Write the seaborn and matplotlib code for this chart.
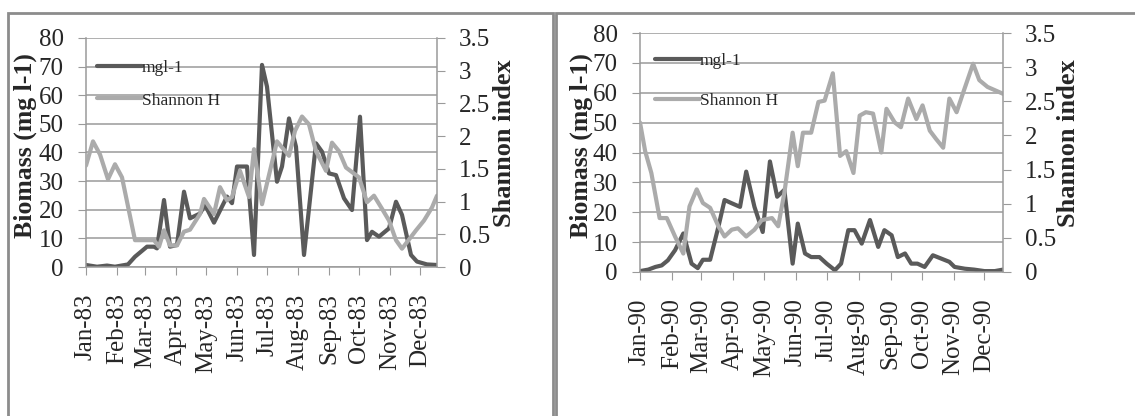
import pandas as pd
import numpy as np
import matplotlib
matplotlib.use('Agg')
import matplotlib.pyplot as plt
import matplotlib.dates as mdates
from matplotlib.patches import Rectangle
import seaborn as sns

# ==========================================
# Data (day of year)
# ==========================================
DAYS_83_BIO = [0, 11, 21, 29, 42, 49, 61, 68, 71, 78, 84, 91, 98, 104, 114, 119, 128, 141, 146, 151,
               161, 168, 176, 181, 191, 196, 203, 210, 218, 230, 236, 243, 250, 258, 266, 274, 281,
               286, 293, 303, 310, 316, 325, 331, 341, 351]
BIO_83 = [0.7, 0.1, 0.5, 0.1, 0.9, 3.6, 7.1, 7.1, 6.5, 23.4, 7.1, 7.7, 26.3, 17.0, 18.7, 21.7, 15.5,
          24.6, 22.3, 35.1, 35.1, 4.2, 70.6, 63.0, 29.8, 35.1, 51.9, 42.0, 4.2, 43.2, 40.3, 32.7, 32.1,
          24.0, 19.9, 52.5, 9.4, 12.3, 10.6, 13.5, 22.8, 18.2, 4.2, 1.9, 0.9, 0.7]

DAYS_83_SH = [0, 7, 14, 22, 29, 36, 49, 61, 68, 73, 78, 84, 91, 98, 104, 114, 118, 128, 134, 141, 146,
              154, 163, 168, 176, 184, 191, 203, 209, 216, 223, 230, 240, 246, 253, 260, 273, 281, 288,
              296, 303, 310, 316, 321, 330, 338, 346, 351]
SH_83 = [1.55, 1.92, 1.72, 1.34, 1.57, 1.37, 0.41, 0.41, 0.41, 0.31, 0.56, 0.33, 0.33, 0.54, 0.57, 0.81,
         1.04, 0.81, 1.22, 1.02, 1.07, 1.47, 1.07, 1.80, 0.96, 1.47, 1.92, 1.70, 2.08, 2.30, 2.18, 1.77,
         1.47, 1.90, 1.77, 1.52, 1.37, 0.99, 1.09, 0.89, 0.71, 0.41, 0.28, 0.38, 0.56, 0.71, 0.91, 1.09]

DAYS_90_BIO = [0, 8, 15, 21, 27, 34, 42, 50, 56, 61, 68, 76, 82, 89, 97, 103, 111, 119, 126, 133, 140,
               144, 148, 153, 160, 166, 174, 181, 189, 195, 202, 208, 215, 223, 231, 237, 244, 250, 257,
               263, 269, 276, 284, 292, 300, 305, 315, 324, 334, 344, 352]
BIO_90 = [0.3, 0.8, 1.7, 2.2, 3.9, 7.3, 12.9, 2.8, 1.3, 4.1, 4.1, 15.1, 24.1, 23.0, 21.8, 33.6, 21.8,
          13.4, 37.0, 25.2, 27.5, 15.1, 2.8, 16.2, 6.2, 5.0, 5.0, 2.8, 0.6, 2.8, 14.0, 14.0, 9.5, 17.4,
          8.4, 14.0, 12.3, 5.0, 6.2, 2.8, 2.8, 1.7, 5.6, 4.5, 3.4, 1.7, 1.1, 0.8, 0.3, 0.3, 0.8]

DAYS_90_SH = [0, 5, 11, 19, 26, 34, 42, 48, 55, 61, 68, 76, 82, 89, 95, 103, 111, 118, 128, 134, 140,
              148, 153, 158, 166, 173, 179, 187, 194, 200, 207, 213, 219, 226, 234, 239, 247, 253, 260,
              268, 274, 281, 287, 294, 300, 307, 313, 323, 329, 337, 352]
SH_90 = [2.19, 1.77, 1.45, 0.79, 0.79, 0.52, 0.27, 0.96, 1.21, 1.01, 0.94, 0.67, 0.52, 0.62, 0.64, 0.52,
         0.62, 0.76, 0.79, 0.67, 1.16, 2.04, 1.55, 2.04, 2.04, 2.49, 2.51, 2.91, 1.70, 1.77, 1.45, 2.29,
         2.34, 2.32, 1.75, 2.39, 2.19, 2.12, 2.54, 2.24, 2.44, 2.07, 1.95, 1.82, 2.54, 2.34, 2.61, 3.05,
         2.81, 2.71, 2.61]

BIO_TICKS = [0, 10, 20, 30, 40, 50, 60, 70, 80]
SH_TICKS = [0, 0.5, 1, 1.5, 2, 2.5, 3, 3.5]
SH_TICK_LABELS = ['0', '0.5', '1', '1.5', '2', '2.5', '3', '3.5']

DARK = '#5a5a5a'
LIGHT = '#ababab'
GRID = '#9a9a9a'

sns.set_style('white')
plt.rcParams['font.family'] = ['Liberation Serif', 'DejaVu Serif']


def to_dates(year, days):
    return pd.Timestamp(f'{year}-01-01') + pd.to_timedelta(days, unit='D')


def draw_panel(fig, rect, year, d_bio, bio, d_sh, sh, leg_anchor, leg_space, lab_x):
    ax = fig.add_axes(rect)
    ax2 = ax.twinx()

    x_bio = to_dates(year, d_bio)
    x_sh = to_dates(year, d_sh)

    sns.lineplot(x=x_bio, y=bio, ax=ax, color=DARK, lw=3, estimator=None, sort=False, label='mgl-1',
                 legend=False)
    sns.lineplot(x=x_sh, y=sh, ax=ax2, color=LIGHT, lw=3, estimator=None, sort=False,
                 label='Shannon H', legend=False)

    ax.set_ylim(0, 80)
    ax.set_yticks(BIO_TICKS)
    ax2.set_ylim(0, 3.5)
    ax2.set_yticks(SH_TICKS)
    ax2.set_yticklabels(SH_TICK_LABELS)

    ax.set_xlim(min(x_bio.min(), x_sh.min()), max(x_bio.max(), x_sh.max()))
    ax.xaxis.set_major_locator(mdates.MonthLocator())
    ax.xaxis.set_major_formatter(mdates.DateFormatter('%b-%y'))
    plt.setp(ax.get_xticklabels(), rotation=90)

    ax.yaxis.grid(True, color=GRID, lw=1.1)
    ax.xaxis.grid(False)
    ax.set_axisbelow(True)

    for a in (ax, ax2):
        for s in a.spines.values():
            s.set_color(GRID)
            s.set_linewidth(1.1)
        a.spines['top'].set_visible(False)
    ax.spines['right'].set_visible(False)
    ax2.spines['left'].set_visible(False)
    ax2.spines['bottom'].set_visible(False)

    ax.tick_params(axis='x', direction='out', length=6, color=GRID, labelsize=18, pad=13, bottom=True)
    ax.tick_params(axis='y', direction='out', length=6, color=GRID, labelsize=18, pad=10, left=True)
    ax2.tick_params(axis='y', direction='out', length=6, color=GRID, labelsize=18, pad=10, right=True)

    ax.set_xlabel('')
    ax.set_ylabel('Biomass (mg l-1)', fontsize=18.5, fontweight='bold')
    ax2.set_ylabel('Shannon index', fontsize=19, fontweight='bold')
    ax.yaxis.set_label_coords(lab_x[0], 0.53)
    ax2.yaxis.set_label_coords(lab_x[1], 0.54)

    h1 = ax.get_lines()[0]
    h2 = ax2.get_lines()[0]
    ax2.legend([h1, h2], ['mgl-1', 'Shannon H'], loc='upper left', bbox_to_anchor=leg_anchor,
               frameon=False, fontsize=12.5, handlelength=2.6, handletextpad=0.0,
               labelspacing=leg_space, borderaxespad=0, borderpad=0)
    return ax, ax2


W, H = 1135, 416
fig = plt.figure(figsize=(W / 100, H / 100), dpi=100)

draw_panel(fig, [86 / W, (H - 267) / H, (437 - 86) / W, (267 - 38) / H], 1983,
           DAYS_83_BIO, BIO_83, DAYS_83_SH, SH_83, (0.03, 0.905), 0.95, (-0.14, 1.16))
draw_panel(fig, [640 / W, (H - 272) / H, (1003 - 640) / W, (272 - 33) / H], 1990,
           DAYS_90_BIO, BIO_90, DAYS_90_SH, SH_90, (0.04, 0.915), 1.35, (-0.13, 1.15))

# panel frames
fig.patches.append(Rectangle((8 / W, -0.1), (553 - 8) / W, 1 - 13 / H + 0.1, transform=fig.transFigure,
                             fill=False, ec='#8c8c8c', lw=2))
fig.patches.append(Rectangle((556 / W, -0.1), 0.6, 1 - 13 / H + 0.1, transform=fig.transFigure,
                             fill=False, ec='#8c8c8c', lw=2))

plt.savefig('out.png', dpi=100)
